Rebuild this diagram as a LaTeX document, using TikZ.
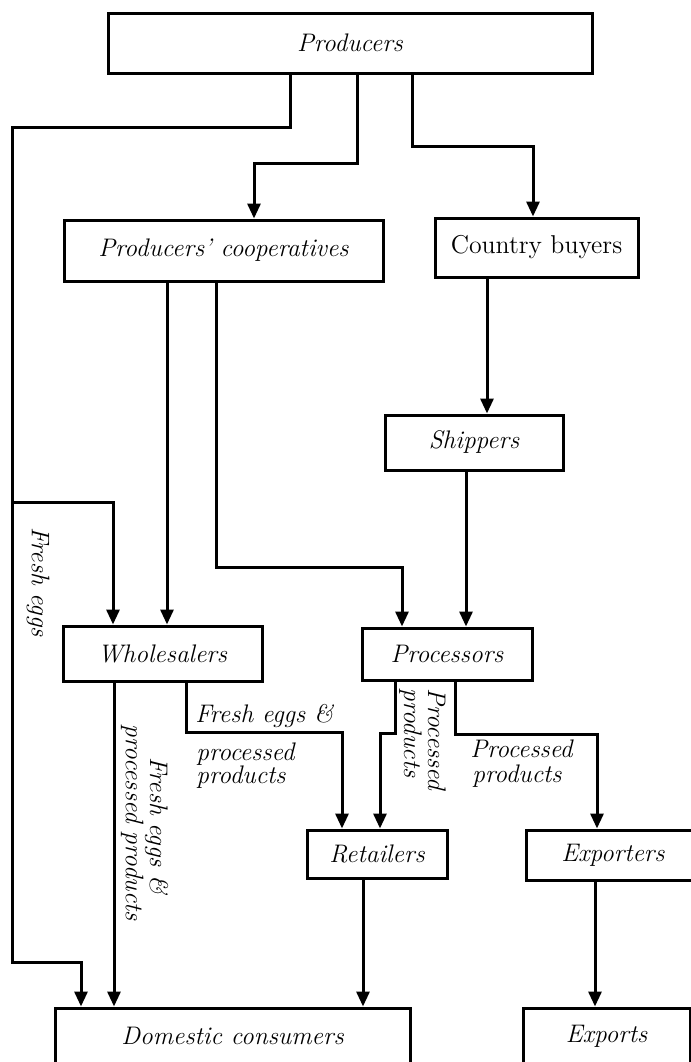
\documentclass[tikz,border=0pt]{standalone}
\usetikzlibrary{arrows.meta}
\begin{document}
\begin{tikzpicture}[x=0.5pt,y=-0.5pt,
  every node/.style={font=\fontsize{12.7}{14}\selectfont\itshape},
  box/.style={draw, line width=1.5pt, inner sep=0pt, align=center},
  flow/.style={line width=1.5pt, line join=miter},
  arr/.style={flow, -{Triangle[width=6.5pt,length=7.5pt]}},
  lab/.style={inner sep=0pt, anchor=base west},
  vlab/.style={inner sep=0pt, anchor=base west, rotate=-90}]
\useasboundingbox (0,0) rectangle (691,1062);

% boxes
\node[box, minimum width=242pt, minimum height=30pt] (prod) at (350,43) {Producers};
\node[box, minimum width=159.5pt, minimum height=30.5pt] (coop) at (223.5,250.5) {Producers' cooperatives};
\node[box, minimum width=101.5pt, minimum height=29.5pt, font=\fontsize{12.9}{14}\selectfont\upshape] (buy) at (536.5,247.5) {Country buyers};
\node[box, minimum width=89pt, minimum height=27.5pt] (ship) at (474,442.5) {Shippers};
\node[box, minimum width=99.5pt, minimum height=27.5pt] (whole) at (162.5,653.5) {Wholesalers};
\node[box, minimum width=85pt, minimum height=26pt] (proc) at (447,654) {Processors};
\node[box, minimum width=70pt, minimum height=24pt] (ret) at (377,854) {Retailers};
\node[box, minimum width=87pt, minimum height=25pt] (expr) at (613,855) {Exporters};
\node[box, minimum width=177.5pt, minimum height=28pt] (dom) at (232.5,1036) {Domestic consumers};
\node[box, minimum width=83.5pt, minimum height=28pt] (exps) at (606.5,1036) {Exports};

% flows
\coordinate (fe) at (12,502);
\draw[arr] (prod.south -| 290,0) |- (12,127) |- (81,962) -- (dom.north -| 81,0);
\draw[arr] (fe) -| (whole.north -| 113,0);
\draw[arr] (prod.south -| 357,0) |- (254,163) -- (coop.north -| 254,0);
\draw[arr] (prod.south -| 412,0) |- (533,146) -- (buy.north -| 533,0);
\draw[arr] (buy.south -| 487,0) -- (ship.north -| 487,0);
\draw[arr] (coop.south -| 167,0) -- (whole.north -| 167,0);
\draw[arr] (coop.south -| 216,0) |- (402,567) -- (proc.north -| 402,0);
\draw[arr] (ship.south -| 466,0) -- (proc.north -| 466,0);
\draw[arr] (whole.south -| 114,0) -- (dom.north -| 114,0);
\draw[arr] (whole.south -| 186,0) |- (342,732) -- (ret.north -| 342,0);
\draw[arr] (proc.south -| 395,0) |- (380,733) -- (ret.north -| 380,0);
\draw[arr] (proc.south -| 455,0) |- (597,734) -- (expr.north -| 597,0);
\draw[arr] (ret.south -| 363,0) -- (dom.north -| 363,0);
\draw[arr] (expr.south -| 595,0) -- (exps.north -| 595,0);

% flow labels
\node[vlab, anchor=base] (lfe) at (32,582) {Fresh eggs};
\node[vlab, anchor=base] (lwa) at (150,826) {Fresh eggs \&};
\node[vlab, anchor=base] (lwb) at (126,823) {processed products};
\node[vlab] (lpa) at (428,688) {Processed};
\node[vlab] (lpb) at (404,688) {products};
\node[lab] (lra) at (195,722) {Fresh eggs \&};
\node[lab] (lrb) at (196,760) {processed};
\node[lab] (lrc) at (196,783) {products};
\node[lab] (lxa) at (470,757) {Processed};
\node[lab] (lxb) at (472,782) {products};
\end{tikzpicture}
\end{document}
